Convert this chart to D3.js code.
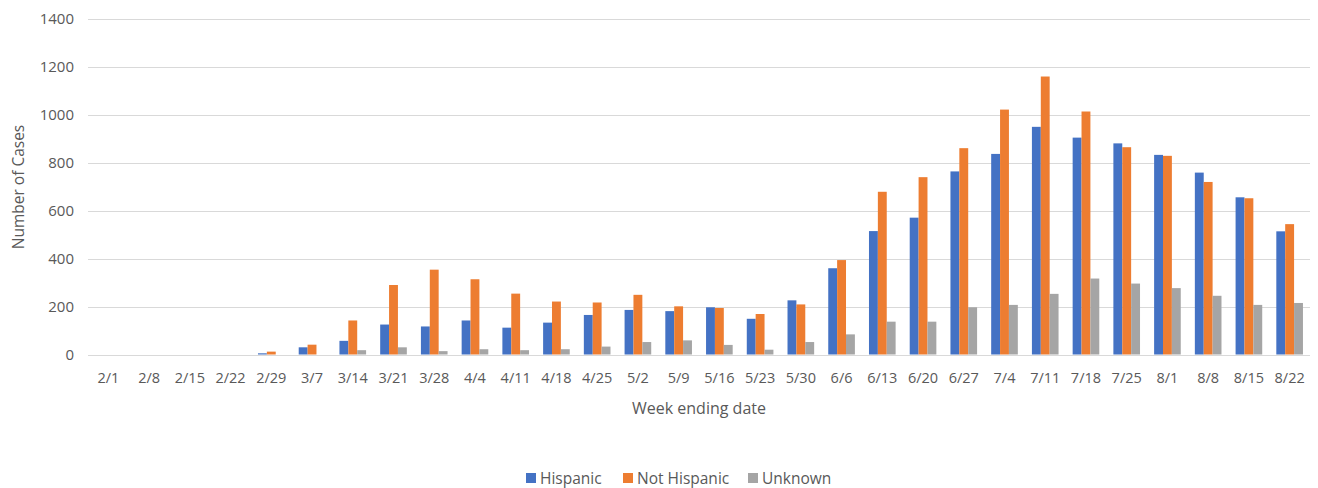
<!DOCTYPE html>
<html><head><meta charset="utf-8">
<script src="https://cdn.jsdelivr.net/npm/d3@7"></script>
<style>
html,body{margin:0;padding:0;background:#fff;overflow:hidden}
text{font-family:"Open Sans","Noto Sans",sans-serif;fill:#595959}
</style></head>
<body><svg id="c" width="1318" height="488"></svg>
<script>
const categories = ["2/1","2/8","2/15","2/22","2/29","3/7","3/14","3/21","3/28","4/4","4/11","4/18","4/25","5/2","5/9","5/16","5/23","5/30","6/6","6/13","6/20","6/27","7/4","7/11","7/18","7/25","8/1","8/8","8/15","8/22"];
const hispanic    = [0,0,0,0,5,30,57,125,117,142,112,133,165,186,181,197,149,226,360,515,571,764,837,950,905,881,833,759,656,514];
const notHispanic = [0,0,0,0,12,41,142,290,354,314,254,221,217,249,201,194,169,209,394,679,740,861,1022,1160,1014,865,829,720,652,544];
const unknown     = [0,0,0,0,0,0,18,30,14,22,18,22,33,52,59,40,20,52,84,137,137,197,207,253,317,296,277,245,207,215];
const seriesNames = ["Hispanic","Not Hispanic","Unknown"];
const seriesColors = ["#4472C4","#ED7D31","#A5A5A5"];
const yTicks = [0,200,400,600,800,1000,1200,1400];

const seriesValues = [hispanic, notHispanic, unknown];
const svg = d3.select("#c");
const m = {left:88, right:1310, top:19, bottom:354.5};
const FONT = '"Open Sans","Noto Sans",sans-serif';

const x0 = d3.scaleBand().domain(categories).range([m.left, m.right]).paddingInner(0.346).paddingOuter(0.173);
const x1 = d3.scaleBand().domain(seriesNames).range([0, x0.bandwidth()]).padding(0);
const y = d3.scaleLinear().domain([0,1400]).range([m.bottom, m.top]);

// gridlines
svg.append("g").selectAll("line").data(yTicks).join("line")
  .attr("x1", m.left).attr("x2", m.right)
  .attr("y1", d=>Math.round(y(d))+0.5).attr("y2", d=>Math.round(y(d))+0.5)
  .attr("stroke", "#D9D9D9").attr("stroke-width", 1);

// y axis
const yAxis = svg.append("g").attr("transform", `translate(${m.left-14},0)`)
  .call(d3.axisLeft(y).tickValues(yTicks).tickFormat(d3.format("d")).tickSize(0).tickPadding(0));
yAxis.select(".domain").remove();
yAxis.selectAll("text").style("font-size","15px").attr("fill","#595959").style("font-family",FONT);

// x axis
const xAxis = svg.append("g").attr("transform", `translate(0,${m.bottom})`)
  .call(d3.axisBottom(x0).tickSize(0).tickPadding(18));
xAxis.select(".domain").remove();
xAxis.selectAll("text").style("font-size","14.5px").attr("fill","#595959").style("font-family",FONT);

// bars
const groups = svg.append("g").selectAll("g").data(categories).join("g")
  .attr("transform", d=>`translate(${x0(d)},0)`);
groups.selectAll("rect").data((c,i)=>seriesNames.map((s,k)=>({s, k, v:seriesValues[k][i]})))
  .join("rect")
  .attr("x", d=>x1(d.s)).attr("width", x1.bandwidth())
  .attr("y", d=>y(d.v)).attr("height", d=>y(0)-y(d.v))
  .attr("fill", d=>seriesColors[d.k]);

// axis titles
svg.append("text").attr("x", (m.left+m.right)/2).attr("y", 414)
  .attr("text-anchor","middle").style("font-size","16px").text("Week ending date");
svg.append("text").attr("transform", `translate(24,187) rotate(-90)`)
  .attr("text-anchor","middle").style("font-size","15.5px").text("Number of Cases");

// legend
const legX = [526, 623, 748];
const leg = svg.append("g");
seriesNames.forEach((s,i)=>{
  leg.append("rect").attr("x", legX[i]).attr("y", 473).attr("width", 10).attr("height", 10).attr("fill", seriesColors[i]);
  leg.append("text").attr("x", legX[i]+14).attr("y", 483.5).style("font-size","15.5px").text(s);
});
</script></body></html>
